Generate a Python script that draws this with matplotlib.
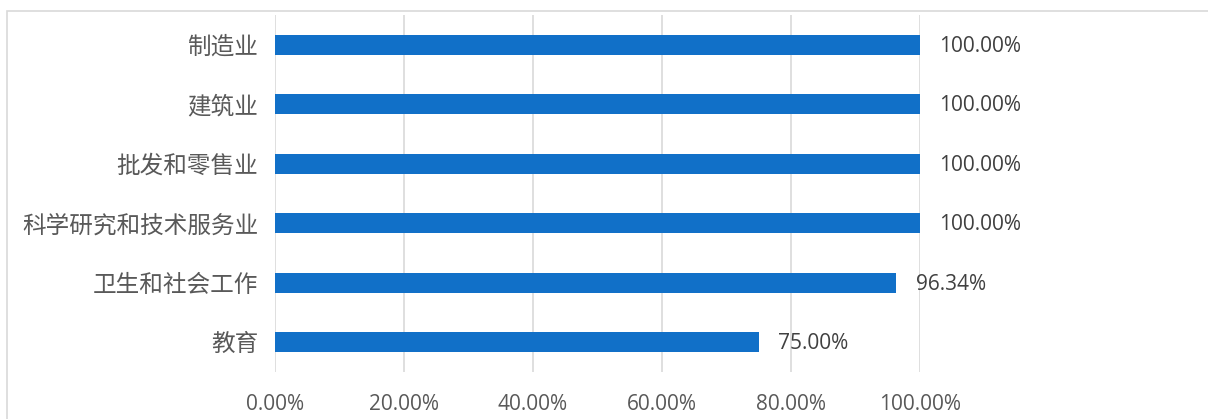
import matplotlib
matplotlib.use("Agg")
import matplotlib.pyplot as plt
from matplotlib.patches import Rectangle
from matplotlib.ticker import FuncFormatter

categories = ["制造业", "建筑业", "批发和零售业", "科学研究和技术服务业", "卫生和社会工作", "教育"]
values = [100.00, 100.00, 100.00, 100.00, 96.34, 75.00]
xticks = [0, 20, 40, 60, 80, 100]

plt.rcParams['font.family'] = ['Open Sans', 'Noto Sans CJK SC', 'DejaVu Sans']

W, H = 1208, 419
fig = plt.figure(figsize=(W / 100, H / 100), dpi=100)
fig.patch.set_facecolor('white')

# chart area border
fig.patches.append(Rectangle((7 / W, -0.05), 1.2, (H - 11) / H + 0.05,
                             transform=fig.transFigure, fill=False,
                             edgecolor='#d9d9d9', linewidth=1.2))

ax = fig.add_axes([275 / W, 47 / H, (920 - 275) / W, (372 - 15) / H])
ypos = list(range(len(categories)))
ax.barh(ypos, values, height=0.34, color='#1170c8', zorder=3)
ax.set_ylim(len(categories) - 0.5, -0.5)
ax.set_xlim(0, 100)
ax.set_xticks(xticks)
ax.xaxis.set_major_formatter(FuncFormatter(lambda v, p: f"{v:.2f}%"))
ax.set_yticks(ypos)
ax.set_yticklabels(categories, fontsize=17, color='#595959',
                   fontfamily=['Noto Sans CJK SC', 'DejaVu Sans'])
ax.tick_params(axis='y', length=0, pad=12)
ax.tick_params(axis='x', length=0, pad=16, labelsize=15, labelcolor='#595959')
for lbl in ax.get_xticklabels():
    lbl.set_fontfamily(['Open Sans', 'DejaVu Sans'])
ax.grid(axis='x', color='#d9d9d9', linewidth=1.2, zorder=0)
for s in ax.spines.values():
    s.set_visible(False)

for y, v in zip(ypos, values):
    ax.annotate(f"{v:.2f}%", xy=(v, y), xytext=(14, -1), textcoords='offset points',
                va='center', ha='left', fontsize=15, color='#404040',
                fontfamily=['Open Sans', 'DejaVu Sans'], annotation_clip=False)

fig.savefig("out.png", dpi=100)
